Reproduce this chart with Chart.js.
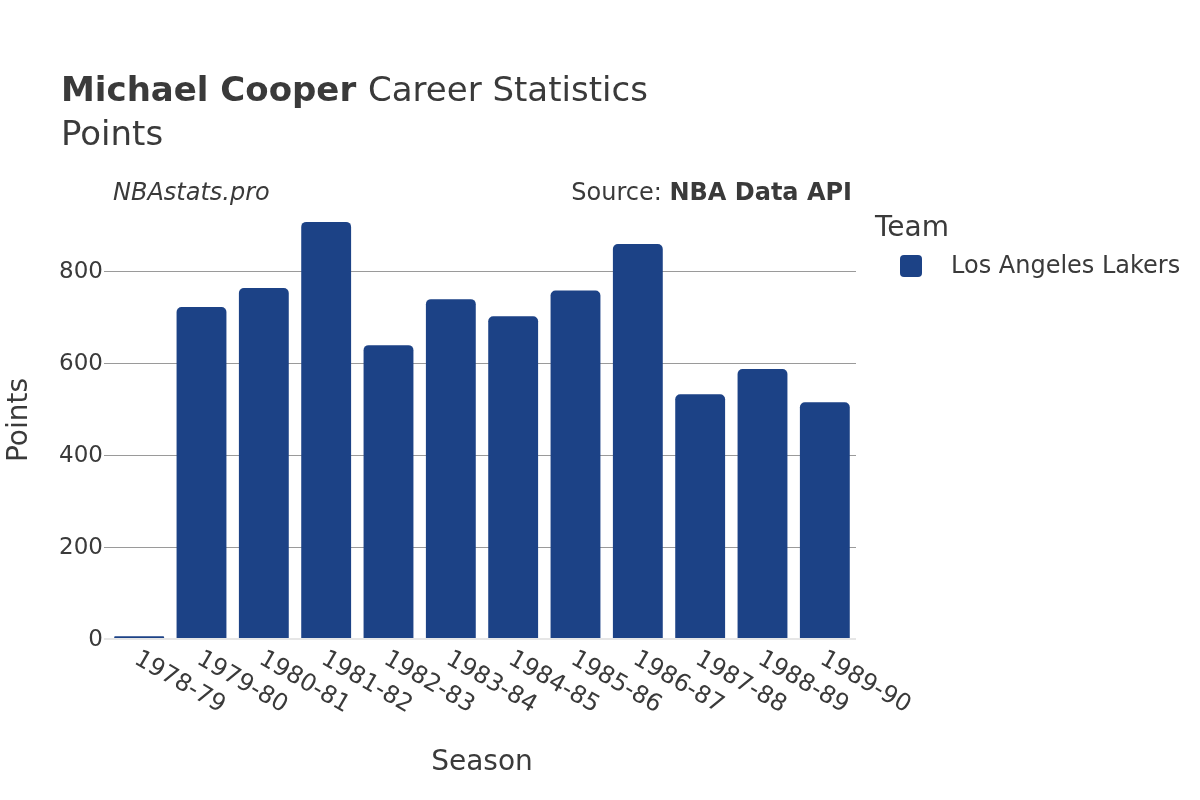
<!DOCTYPE html>
<html>
<head>
<meta charset="utf-8">
<script src="https://cdn.jsdelivr.net/npm/chart.js@4"></script>
<style>
  html, body { margin: 0; padding: 0; background: #fff; }
  #wrap { width: 1200px; height: 800px; }
</style>
</head>
<body>
<div id="wrap"><canvas id="chart" width="1200" height="800"></canvas></div>
<script>
// data
const seasons = ['1978-79', '1979-80', '1980-81', '1981-82', '1982-83', '1983-84',
                 '1984-85', '1985-86', '1986-87', '1987-88', '1988-89', '1989-90'];
const points = [6, 722, 763, 907, 639, 739, 702, 758, 859, 532, 587, 515];
const yTicks = [0, 200, 400, 600, 800];
const teamName = 'Los Angeles Lakers';

const barColor = '#1c4286';
const textColor = '#3a3a3a';
const font = '"DejaVu Sans", sans-serif';

// all the text round the plot
const textPlugin = {
    id: 'texts',
    afterDraw(chart) {
        const ctx = chart.ctx;
        const x = chart.scales.x, y = chart.scales.y;
        const area = chart.chartArea;
        ctx.save();
        ctx.fillStyle = textColor;

        // title
        ctx.textBaseline = 'alphabetic';
        ctx.textAlign = 'left';
        ctx.font = 'bold 34px ' + font;
        ctx.fillText('Michael Cooper', 61, 101);
        const w = ctx.measureText('Michael Cooper ').width;
        ctx.font = '34px ' + font;
        ctx.fillText('Career Statistics', 61 + w, 101);
        ctx.fillText('Points', 61, 145);

        // watermark + source
        ctx.font = 'italic 24px ' + font;
        ctx.fillText('NBAstats.pro', 113, 200);
        ctx.textAlign = 'right';
        ctx.font = 'bold 24px ' + font;
        ctx.fillText('NBA Data API', 852, 200);
        const bw = ctx.measureText('NBA Data API').width;
        ctx.font = '24px ' + font;
        ctx.fillText('Source: ', 852 - bw, 200);

        // y tick labels
        ctx.textAlign = 'right';
        ctx.textBaseline = 'middle';
        ctx.font = '23px ' + font;
        yTicks.forEach(v => ctx.fillText(String(v), area.left - 5, y.getPixelForValue(v) + 1));

        // x tick labels, rotated down-right
        ctx.textAlign = 'left';
        ctx.textBaseline = 'top';
        ctx.font = '24px ' + font;
        seasons.forEach((s, i) => {
            const px = x.getPixelForValue(i);
            ctx.save();
            ctx.translate(px + 3, area.bottom + 8);
            ctx.rotate(Math.PI / 6);
            ctx.fillText(s, 0, 0);
            ctx.restore();
        });

        // axis titles
        ctx.font = '28px ' + font;
        ctx.textAlign = 'center';
        ctx.textBaseline = 'alphabetic';
        ctx.fillText('Season', (area.left + area.right) / 2, 770);
        ctx.save();
        ctx.translate(27, 420);
        ctx.rotate(-Math.PI / 2);
        ctx.fillText('Points', 0, 0);
        ctx.restore();

        // legend
        ctx.textAlign = 'left';
        ctx.fillText('Team', 875, 236);
        ctx.fillStyle = barColor;
        ctx.beginPath();
        ctx.roundRect(900, 255, 22, 22, 4);
        ctx.fill();
        ctx.fillStyle = textColor;
        ctx.font = '24px ' + font;
        ctx.textBaseline = 'middle';
        ctx.fillText(teamName, 951, 267);
        ctx.restore();
    }
};

new Chart(document.getElementById('chart'), {
    type: 'bar',
    data: {
        labels: seasons,
        datasets: [{
            label: teamName,
            data: points,
            backgroundColor: barColor,
            borderRadius: { topLeft: 5, topRight: 5 },
            borderSkipped: 'bottom',
            barPercentage: 0.8,
            categoryPercentage: 1.0
        }]
    },
    options: {
        responsive: false,
        animation: false,
        layout: { padding: { left: 104, right: 344, top: 215, bottom: 161 } },
        plugins: { legend: { display: false }, tooltip: { enabled: false } },
        scales: {
            x: {
                display: false
            },
            y: {
                min: 0,
                max: 922,
                afterBuildTicks: scale => { scale.ticks = yTicks.map(v => ({ value: v })); },
                ticks: { display: false },
                border: { display: false },
                grid: {
                    tickLength: 4,
                    color: ctx => ctx.tick && ctx.tick.value === 0 ? '#e6e6e6' : '#9a9a9a',
                    lineWidth: ctx => ctx.tick && ctx.tick.value === 0 ? 2 : 1
                }
            }
        }
    },
    plugins: [textPlugin]
});
</script>
</body>
</html>
